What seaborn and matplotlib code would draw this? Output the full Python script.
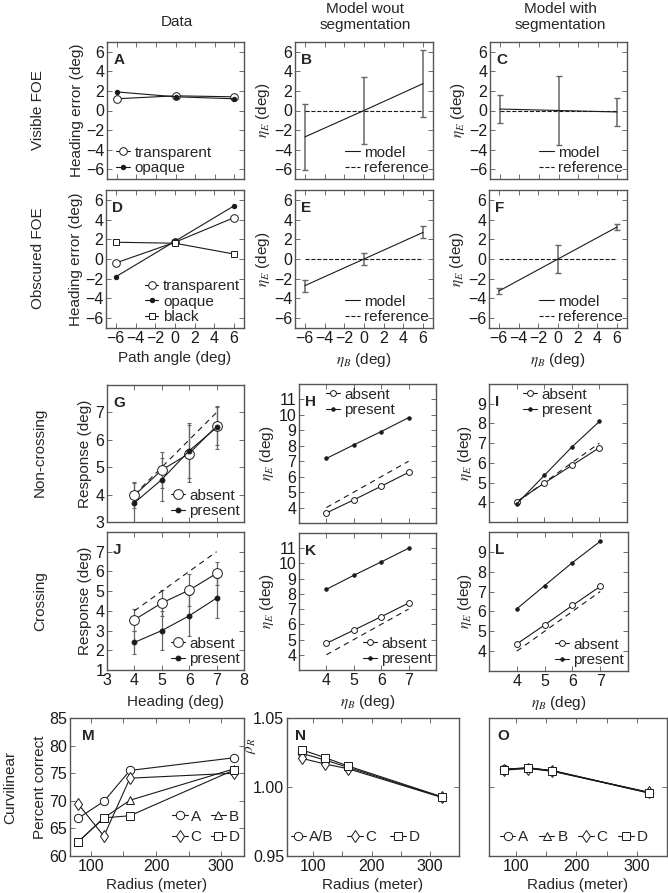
import numpy as np
import pandas as pd
import matplotlib
matplotlib.use('Agg')
import matplotlib.pyplot as plt
import seaborn as sns

# ---------------- data ----------------
path_angle = [-6, 0, 6]
A_transparent = [1.2, 1.5, 1.4]
A_opaque = [1.9, 1.4, 1.2]
D_transparent = [-0.4, 1.7, 4.2]
D_opaque = [-1.8, 1.8, 5.4]
D_black = [1.7, 1.6, 0.5]

B_model = [-2.7, 0.0, 2.75]
B_err = [3.4, 3.4, 3.4]
C_model = [0.15, 0.0, -0.15]
C_err = [1.45, 3.5, 1.45]
E_model = [-2.7, 0.0, 2.7]
E_err = [0.6, 0.65, 0.6]
F_model = [-3.25, 0.0, 3.25]
F_err = [0.3, 1.4, 0.3]
reference_foe = [0.0, 0.0, 0.0]

heading = [4, 5, 6, 7]
reference_heading = [4, 5, 6, 7]
G_absent = [3.97, 4.9, 5.5, 6.5]
G_absent_err = [0.45, 0.65, 1.05, 0.7]
G_present = [3.7, 4.55, 5.6, 6.45]
G_present_err = [0.75, 0.8, 1.0, 0.8]
J_absent = [3.55, 4.4, 5.05, 5.9]
J_absent_err = [0.55, 0.65, 0.8, 0.6]
J_present = [2.4, 3.0, 3.75, 4.65]
J_present_err = [0.6, 1.0, 1.05, 1.0]
H_absent = [3.65, 4.5, 5.38, 6.28]
H_present = [7.18, 8.06, 8.92, 9.82]
I_absent = [4.03, 4.97, 5.87, 6.77]
I_present = [3.91, 5.36, 6.8, 8.1]
K_absent = [4.75, 5.62, 6.5, 7.4]
K_present = [8.3, 9.22, 10.1, 11.0]
L_absent = [4.36, 5.32, 6.3, 7.26]
L_present = [6.13, 7.3, 8.46, 9.53]

radius = [80, 120, 160, 320]
M_A = [66.8, 69.9, 75.5, 77.8]
M_B = [62.5, 66.9, 70.1, 75.8]
M_C = [69.5, 63.6, 74.1, 75.0]
M_D = [62.5, 66.9, 67.3, 75.6]
N_AB = [1.0244, 1.0196, 1.0142, 0.9928]
N_C = [1.0208, 1.0167, 1.0132, 0.9925]
N_D = [1.0270, 1.0213, 1.0152, 0.9930]
O_A = [1.0128, 1.0140, 1.0118, 0.9960]
O_B = [1.0132, 1.0136, 1.0120, 0.9958]
O_C = [1.0122, 1.0134, 1.0114, 0.9962]
O_D = [1.0126, 1.0138, 1.0116, 0.9956]

col_titles = ["Data", "Model wout\nsegmentation", "Model with\nsegmentation"]
row_titles = ["Visible FOE", "Obscured FOE", "Non-crossing", "Crossing", "Curvilinear"]

# ---------------- style ----------------
sns.set_theme(style='ticks')
plt.rcParams['font.family'] = ['Liberation Sans', 'DejaVu Sans']
plt.rcParams['mathtext.fontset'] = 'stix'
plt.rcParams['font.size'] = 11
plt.rcParams['axes.unicode_minus'] = True

W, H = 668, 893
fig = plt.figure(figsize=(W / 100, H / 100), dpi=100)
FS = 11
TFS = 11.5
GRAY = '#555555'
EGRAY = '#666666'


def add_ax(l, r, t, b):
    return fig.add_axes([l / W, 1 - b / H, (r - l) / W, (b - t) / H])


def style(ax, xlim, ylim, xticks, yticks, xtl=False, ytl=True, yfmt=None, xlabels=None):
    ax.set_xlim(xlim)
    ax.set_ylim(ylim)
    ax.set_xticks(xticks)
    ax.set_yticks(yticks)
    if xtl:
        if xlabels is not None:
            ax.set_xticklabels(xlabels)
    else:
        ax.set_xticklabels([])
    if ytl:
        if yfmt:
            ax.set_yticklabels([yfmt.format(v) for v in yticks])
    else:
        ax.set_yticklabels([])
    ax.tick_params(direction='in', top=True, right=True, length=3.5, width=0.6,
                   colors=GRAY, labelcolor='k', labelsize=TFS, pad=2)
    for s in ax.spines.values():
        s.set_color(GRAY)
        s.set_linewidth(1.0)
    ax.set_xlabel('')
    ax.set_ylabel('')


def line(ax, x, y, marker=None, ms=5, mfc='white', ls='-', lw=0.8, label=None):
    xl, yl = ax.get_xlabel(), ax.get_ylabel()
    df = pd.DataFrame({'x': x, 'y': y})
    n0 = len(ax.lines)
    sns.lineplot(data=df, x='x', y='y', ax=ax, color='k', marker=marker,
                 markersize=ms, markerfacecolor=mfc, markeredgecolor='k',
                 markeredgewidth=0.7, linestyle=ls, linewidth=lw,
                 estimator=None, sort=False, legend=False)
    ax.set_xlabel(xl)
    ax.set_ylabel(yl)
    ln = ax.lines[n0]
    ln.set_label(label)
    return ln


def letter(ax, s, x=0.045, y=0.92):
    ax.text(x, y, s, transform=ax.transAxes, fontweight='bold', fontsize=FS,
            va='top', ha='left')


def leg(ax, handles, **kw):
    opts = dict(frameon=False, fontsize=FS, handlelength=0.9, handletextpad=0.3,
                labelspacing=0.1, borderaxespad=0.15, borderpad=0.1, numpoints=1)
    opts.update(kw)
    ax.legend(handles=handles, labels=[h.get_label() for h in handles], **opts)


eta_E = r'$\eta_E$ (deg)'
eta_B = r'$\eta_B$ (deg)'
foe_ticks = [-6, -4, -2, 0, 2, 4, 6]

# ---------------- Row 1 / 2 ----------------
axA = add_ax(107, 244, 42, 179)
axB = add_ax(295, 433, 42, 179)
axC = add_ax(490, 627, 42, 179)
axD = add_ax(106, 244, 190, 328)
axE = add_ax(295, 433, 190, 328)
axF = add_ax(489, 627, 190, 328)

for ax in [axA, axB, axC, axD, axE, axF]:
    style(ax, (-7, 7), (-7, 7), foe_ticks, foe_ticks, xtl=ax in (axD, axE, axF))

h1 = line(axA, path_angle, A_transparent, 'o', 5.5, 'white', label='transparent')
h2 = line(axA, path_angle, A_opaque, 'o', 3.2, 'k', label='opaque')
leg(axA, [h1, h2], loc='lower left', bbox_to_anchor=(0.04, 0.0))
axA.set_ylabel('Heading error (deg)', fontsize=FS, labelpad=1)
letter(axA, 'A')

h1 = line(axD, path_angle, D_transparent, 'o', 5.5, 'white', label='transparent')
h2 = line(axD, path_angle, D_opaque, 'o', 3.2, 'k', label='opaque')
h3 = line(axD, path_angle, D_black, 's', 5, 'white', label='black')
leg(axD, [h1, h2, h3], loc='lower right', bbox_to_anchor=(1.0, 0.0))
axD.set_ylabel('Heading error (deg)', fontsize=FS, labelpad=1)
axD.set_xlabel('Path angle (deg)', fontsize=FS, labelpad=4)
letter(axD, 'D')

for ax, m, e, lt in [(axB, B_model, B_err, 'B'), (axC, C_model, C_err, 'C'),
                     (axE, E_model, E_err, 'E'), (axF, F_model, F_err, 'F')]:
    ax.errorbar(path_angle, m, yerr=e, fmt='none', ecolor=EGRAY, elinewidth=1.1,
                capsize=2.2, capthick=1.0, zorder=1)
    hm = line(ax, path_angle, m, None, label='model')
    hr = line(ax, path_angle, reference_foe, None, ls='--', lw=0.8, label='reference')
    leg(ax, [hm, hr], loc='lower right', bbox_to_anchor=(1.0, 0.0), handlelength=1.0)
    ax.set_ylabel(eta_E, fontsize=FS, labelpad=1)
    letter(ax, lt)
    if ax in (axE, axF):
        ax.set_xlabel(eta_B, fontsize=FS, labelpad=4)

# ---------------- Row 3 / 4 ----------------
axG = add_ax(107, 244, 385, 522)
axH = add_ax(299, 436, 384, 523)
axI = add_ax(489, 627, 384, 522)
axJ = add_ax(107, 244, 532, 670)
axK = add_ax(299, 436, 533, 670)
axL = add_ax(489, 628, 532, 671)

style(axG, (3, 8), (3, 8), [3, 4, 5, 6, 7, 8], [3, 4, 5, 6, 7])
style(axJ, (3, 8), (1, 8), [3, 4, 5, 6, 7, 8], [1, 2, 3, 4, 5, 6, 7], xtl=True)
style(axH, (3, 8), (3, 12), [4, 5, 6, 7], list(range(4, 12)))
style(axK, (3, 8), (3, 12), [4, 5, 6, 7], list(range(4, 12)), xtl=True)
style(axI, (3, 8), (3, 10), [4, 5, 6, 7], list(range(4, 10)))
style(axL, (3, 8), (3, 10), [4, 5, 6, 7], list(range(4, 10)), xtl=True)

for ax, a, ae, p, pe, lt in [(axG, G_absent, G_absent_err, G_present, G_present_err, 'G'),
                             (axJ, J_absent, J_absent_err, J_present, J_present_err, 'J')]:
    ax.errorbar(heading, a, yerr=ae, fmt='none', ecolor=EGRAY, elinewidth=0.9,
                capsize=1.5, capthick=0.8, zorder=1)
    ax.errorbar(heading, p, yerr=pe, fmt='none', ecolor=EGRAY, elinewidth=0.9,
                capsize=1.5, capthick=0.8, zorder=1)
    line(ax, heading, reference_heading, None, ls=(0, (5, 4)), lw=0.8)
    h1 = line(ax, heading, a, 'o', 7, 'white', label='absent')
    h2 = line(ax, heading, p, 'o', 3.5, 'k', label='present')
    leg(ax, [h1, h2], loc='lower right', bbox_to_anchor=(1.0, 0.0))
    ax.set_ylabel('Response (deg)', fontsize=FS, labelpad=2)
    letter(ax, lt)
axJ.set_xlabel('Heading (deg)', fontsize=FS, labelpad=5)

for ax, a, p, lt, loc in [(axH, H_absent, H_present, 'H', 'ul'),
                          (axI, I_absent, I_present, 'I', 'ul'),
                          (axK, K_absent, K_present, 'K', 'lr'),
                          (axL, L_absent, L_present, 'L', 'lr')]:
    line(ax, heading, reference_heading, None, ls=(0, (5, 4)), lw=0.8)
    h1 = line(ax, heading, a, 'o', 4.2, 'white', label='absent')
    h2 = line(ax, heading, p, 'o', 2.5, 'k', label='present')
    if loc == 'ul':
        bx = 0.17 if ax is axH else 0.22
        leg(ax, [h1, h2], loc='upper left', bbox_to_anchor=(bx, 1.0))
    else:
        leg(ax, [h1, h2], loc='lower right', bbox_to_anchor=(1.0, 0.0))
    ax.set_ylabel(eta_E, fontsize=FS, labelpad=2)
    letter(ax, lt)
    if ax in (axK, axL):
        ax.set_xlabel(eta_B, fontsize=FS, labelpad=4)

# ---------------- Row 5 ----------------
axM = add_ax(70, 244, 718, 856)
axN = add_ax(287, 459, 718, 856)
axO = add_ax(489, 667, 718, 856)
rad_ticks = [100, 150, 200, 250, 300]
rad_labels = ['100', '', '200', '', '300']
style(axM, (68, 335), (60, 85), rad_ticks, [60, 65, 70, 75, 80, 85], xtl=True, xlabels=rad_labels)
style(axN, (55, 350), (0.95, 1.05), rad_ticks, [0.95, 1.00, 1.05], xtl=True,
      xlabels=rad_labels, yfmt='{:.2f}')
style(axO, (55, 350), (0.95, 1.05), rad_ticks, [0.95, 1.00, 1.05], xtl=True,
      xlabels=rad_labels, ytl=False)

hA = line(axM, radius, M_A, 'o', 6, 'white', label='A')
hB = line(axM, radius, M_B, '^', 6, 'white', label='B')
hC = line(axM, radius, M_C, 'd', 6.5, 'white', label='C')
hD = line(axM, radius, M_D, 's', 5.5, 'white', label='D')
leg(axM, [hA, hC, hB, hD], loc='lower right', bbox_to_anchor=(1.0, 0.06), ncol=2,
    columnspacing=0.6, labelspacing=0.4, handlelength=1.0, handletextpad=0.2)
axM.set_ylabel('Percent correct', fontsize=FS, labelpad=2)
axM.set_xlabel('Radius (meter)', fontsize=FS, labelpad=3)
letter(axM, 'M', x=0.07)

h1 = line(axN, radius, N_AB, 'o', 6, 'white', label='A/B')
h2 = line(axN, radius, N_C, 'd', 6.5, 'white', label='C')
h3 = line(axN, radius, N_D, 's', 5.5, 'white', label='D')
leg(axN, [h1, h2, h3], loc='lower left', bbox_to_anchor=(0.0, 0.06), ncol=3,
    columnspacing=0.9, handlelength=1.0, handletextpad=0.2)
axN.set_ylabel(r'$\rho_R$', fontsize=FS)
axN.yaxis.set_label_coords(-0.17, 0.8)
axN.set_xlabel('Radius (meter)', fontsize=FS, labelpad=3)
letter(axN, 'N')

h1 = line(axO, radius, O_A, 'o', 6, 'white', label='A')
h2 = line(axO, radius, O_B, '^', 6, 'white', label='B')
h3 = line(axO, radius, O_C, 'd', 6.5, 'white', label='C')
h4 = line(axO, radius, O_D, 's', 5.5, 'white', label='D')
leg(axO, [h1, h2, h3, h4], loc='lower left', bbox_to_anchor=(0.04, 0.06), ncol=4,
    columnspacing=0.7, handlelength=1.0, handletextpad=0.2)
axO.set_xlabel('Radius (meter)', fontsize=FS, labelpad=3)
letter(axO, 'O')

# ---------------- titles ----------------
fig.text(177 / W, 1 - 22 / H, col_titles[0], ha='center', va='center', fontsize=FS)
fig.text(365 / W, 1 - 17 / H, col_titles[1], ha='center', va='center', fontsize=FS,
         linespacing=1.1)
fig.text(560 / W, 1 - 17 / H, col_titles[2], ha='center', va='center', fontsize=FS,
         linespacing=1.1)
for txt, xp, yp in zip(row_titles, [38, 38, 40, 40, 10], [110, 258, 452, 601, 787]):
    fig.text(xp / W, 1 - yp / H, txt, ha='center', va='center', rotation=90, fontsize=FS)

fig.savefig('out.png', dpi=100)
